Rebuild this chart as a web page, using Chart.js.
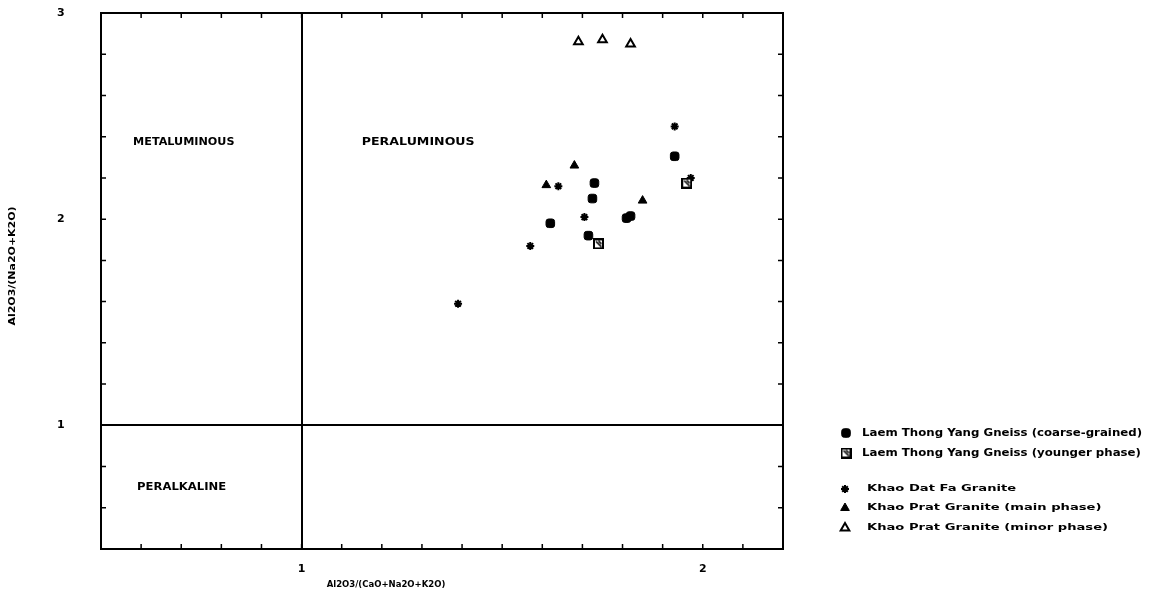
<!DOCTYPE html>
<html>
<head>
<meta charset="utf-8">
<script src="https://cdn.jsdelivr.net/npm/chart.js@4.4.1/dist/chart.umd.min.js"></script>
<style>
  html, body { margin: 0; padding: 0; background: #fff; }
  #wrap { position: relative; width: 1153px; height: 602px; }
</style>
</head>
<body>
<div id="wrap"><canvas id="plot"></canvas></div>
<script>
// ── Dados ────────────────────────────────────────────────────────
const seriesLabels = [
  'Laem Thong Yang Gneiss (coarse-grained)',
  'Laem Thong Yang Gneiss (younger phase)',
  'Khao Dat Fa Granite',
  'Khao Prat Granite (main phase)',
  'Khao Prat Granite (minor phase)'
];

const coarseX  = [1.73, 1.725, 1.62, 1.715, 1.81, 1.82, 1.93];
const coarseY  = [2.175, 2.10, 1.98, 1.92, 2.005, 2.015, 2.305];
const youngerX = [1.74, 1.96];
const youngerY = [1.88, 2.175];
const datFaX   = [1.93, 1.64, 1.705, 1.57, 1.39, 1.97];
const datFaY   = [2.45, 2.16, 2.01, 1.87, 1.59, 2.20];
const mainX    = [1.68, 1.61, 1.85];
const mainY    = [2.26, 2.165, 2.09];
const minorX   = [1.69, 1.75, 1.82];
const minorY   = [2.86, 2.87, 2.85];

const xMin = 0.5, xMax = 2.2, xStep = 0.1;
const yMin = 0.4, yMax = 3.0, yStep = 0.2;
const xTickLabels = [1, 2];
const yTickLabels = [1, 2, 3];

const xTitle = 'Al2O3/(CaO+Na2O+K2O)';
const yTitle = 'Al2O3/(Na2O+K2O)';
const regionNames = ['METALUMINOUS', 'PERALUMINOUS', 'PERALKALINE'];
const regionX = [0.58, 1.15, 0.59];
const regionY = [2.37, 2.37, 0.70];

// ── Marcador "younger phase" (quadrado hachurado) ────────────────
function makeYoungerMarker() {
  const c = document.createElement('canvas');
  c.width = 11; c.height = 11;
  const g = c.getContext('2d');
  g.fillStyle = '#fff';
  g.fillRect(1, 1, 9, 9);
  g.strokeStyle = '#000';
  g.lineWidth = 2;
  g.strokeRect(1, 1, 9, 9);
  g.lineWidth = 1.6;
  g.beginPath();
  g.moveTo(3, 3); g.lineTo(8.5, 8.5);
  g.moveTo(5.5, 2.5); g.lineTo(8.5, 5.5);
  g.stroke();
  return c;
}
const youngerMarker = makeYoungerMarker();

const pts = (xs, ys) => xs.map((x, i) => ({ x, y: ys[i] }));
const near = (v, list) => list.some(t => Math.abs(v - t) < 1e-6);

const datasets = [
  { label: seriesLabels[0], data: pts(coarseX, coarseY), pointStyle: 'rectRounded', pointRadius: 5,
    backgroundColor: '#000', borderColor: '#000', borderWidth: 1 },
  { label: seriesLabels[1], data: pts(youngerX, youngerY), pointStyle: youngerMarker, pointRadius: 5,
    backgroundColor: '#000', borderColor: '#000', borderWidth: 1 },
  { label: seriesLabels[2], data: pts(datFaX, datFaY), pointStyle: 'star', pointRadius: 4,
    backgroundColor: '#000', borderColor: '#000', borderWidth: 2 },
  { label: seriesLabels[3], data: pts(mainX, mainY), pointStyle: 'triangle', pointRadius: 5,
    backgroundColor: '#000', borderColor: '#000', borderWidth: 1 },
  { label: seriesLabels[4], data: pts(minorX, minorY), pointStyle: 'triangle', pointRadius: 5,
    backgroundColor: '#fff', borderColor: '#000', borderWidth: 2 },
];

// texto "largo", como na fonte fotocopiada do original
function wideText(ctx, txt, x, y, stretch) {
  ctx.save();
  ctx.translate(x, y);
  ctx.scale(stretch, 1);
  ctx.fillText(txt, 0, 0);
  ctx.restore();
}

// ── Decoração: moldura, ticks internos, rótulos, legenda ─────────
const decor = {
  id: 'decor',
  afterDraw(chart) {
    const { ctx, chartArea: a, scales: { x, y } } = chart;
    ctx.save();
    ctx.strokeStyle = '#000';
    ctx.lineWidth = 2;
    ctx.strokeRect(a.left, a.top, a.right - a.left, a.bottom - a.top);

    // ticks menores para dentro
    ctx.lineWidth = 1.5;
    ctx.beginPath();
    x.ticks.forEach(t => {
      const px = x.getPixelForValue(t.value);
      ctx.moveTo(px, a.bottom); ctx.lineTo(px, a.bottom - 5);
      ctx.moveTo(px, a.top); ctx.lineTo(px, a.top + 5);
    });
    y.ticks.forEach(t => {
      const py = y.getPixelForValue(t.value);
      ctx.moveTo(a.left, py); ctx.lineTo(a.left + 5, py);
      ctx.moveTo(a.right, py); ctx.lineTo(a.right - 5, py);
    });
    ctx.stroke();

    ctx.fillStyle = '#000';
    ctx.textBaseline = 'middle';
    ctx.textAlign = 'left';

    // nomes dos campos
    ctx.font = 'bold 10px "DejaVu Sans"';
    wideText(ctx, regionNames[0], x.getPixelForValue(regionX[0]), y.getPixelForValue(regionY[0]), 1.12);
    wideText(ctx, regionNames[1], x.getPixelForValue(regionX[1]), y.getPixelForValue(regionY[1]), 1.26);
    wideText(ctx, regionNames[2], x.getPixelForValue(regionX[2]), y.getPixelForValue(regionY[2]), 1.16);

    // títulos dos eixos
    ctx.font = 'bold 8.5px "DejaVu Sans"';
    ctx.textAlign = 'center';
    ctx.fillText(xTitle, 386, 585);
    ctx.save();
    ctx.translate(13, 266);
    ctx.rotate(-Math.PI / 2);
    ctx.font = 'bold 9px "DejaVu Sans"';
    wideText(ctx, yTitle, 0, 0, 1.22);
    ctx.restore();

    // legenda
    const rows = [433, 453, 489, 508, 528];
    const markX = [846, 846, 845, 845, 845];
    const textX = [862, 862, 867, 867, 867];
    chart.data.datasets.forEach((ds, i) => {
      ctx.fillStyle = ds.backgroundColor;
      ctx.strokeStyle = ds.borderColor;
      ctx.lineWidth = ds.borderWidth;
      Chart.helpers.drawPoint(ctx, {
        pointStyle: ds.pointStyle, radius: ds.pointRadius, borderWidth: ds.borderWidth, rotation: 0
      }, markX[i], rows[i]);
      ctx.fillStyle = '#000';
      ctx.textAlign = 'left';
      if (i < 2) {
        ctx.font = 'bold 11px "DejaVu Sans"';
        wideText(ctx, ds.label, textX[i], rows[i], 1.07);
      } else {
        ctx.font = 'bold 9.5px "DejaVu Sans"';
        wideText(ctx, ds.label, textX[i], rows[i], 1.38);
      }
    });
    ctx.restore();
  }
};

new Chart(document.getElementById('plot'), {
  type: 'scatter',
  data: { datasets },
  options: {
    responsive: true,
    maintainAspectRatio: false,
    animation: false,
    layout: { padding: { top: 13, right: 370, left: 57, bottom: 0 } },
    plugins: { legend: { display: false }, tooltip: { enabled: false } },
    scales: {
      x: {
        type: 'linear', min: xMin, max: xMax,
        afterFit: s => { s.height = 53; },
        ticks: {
          stepSize: xStep, autoSkip: false, maxRotation: 0, padding: 14, color: '#000',
          font: { family: 'DejaVu Sans', size: 11, weight: 'bold' },
          callback: v => near(v, xTickLabels) ? String(Math.round(v)) : ''
        },
        grid: {
          drawTicks: false, lineWidth: 2,
          color: c => (c.tick && near(c.tick.value, [1])) ? '#000' : 'rgba(0,0,0,0)'
        },
        border: { display: true, color: '#000', width: 2 }
      },
      y: {
        type: 'linear', min: yMin, max: yMax,
        afterFit: s => { s.width = 44; },
        ticks: {
          stepSize: yStep, autoSkip: false, padding: 0, crossAlign: 'far', color: '#000',
          font: { family: 'DejaVu Sans', size: 11, weight: 'bold' },
          callback: v => near(v, yTickLabels) ? String(Math.round(v)) : ''
        },
        grid: {
          drawTicks: false, lineWidth: 2,
          color: c => (c.tick && near(c.tick.value, [1])) ? '#000' : 'rgba(0,0,0,0)'
        },
        border: { display: true, color: '#000', width: 2 }
      }
    }
  },
  plugins: [decor]
});
</script>
</body>
</html>
